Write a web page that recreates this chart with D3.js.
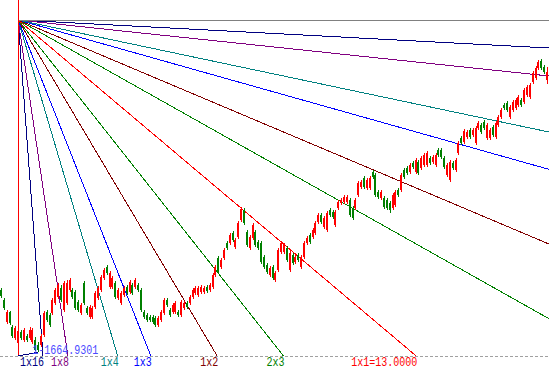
<!DOCTYPE html>
<html>
<head>
<meta charset="utf-8">
<script src="https://cdn.jsdelivr.net/npm/d3@7"></script>
<style>
  html, body { margin: 0; padding: 0; background: #fff; }
  svg { display: block; }
  .label { font-family: "Liberation Mono", "DejaVu Sans Mono", monospace; font-size: 12px; }
</style>
</head>
<body>
<div id="chart"></div>
<script>
// Daily bars: [open, high, low, close].
const bars = [
  [2051,2063,2001,2014],[1989,2001,1927,1939],[1853,1927,1840,1915],[1915,1921,1834,1846],
  [1822,1834,1753,1766],[1753,1828,1741,1815],[1722,1809,1710,1797],[1791,1803,1741,1753],
  [1741,1815,1729,1803],[1766,1778,1729,1741],[1753,1822,1741,1803],[1729,1815,1716,1803],
  [1741,1760,1673,1679],[1710,1729,1664.93,1679],[1710,1778,1698,1766],[1772,1921,1760,1908],
  [1915,1927,1853,1865],[1896,1908,1822,1834],[1908,2001,1896,1989],[1970,2063,1958,2051],
  [2008,2095,1995,2082],[2063,2082,1977,1989],[1927,2107,1915,2095],[1970,2113,1958,2095],
  [2051,2125,2039,2113],[2051,2063,1995,2008],[2039,2051,1927,1939],[1977,1989,1915,1927],
  [1908,1970,1896,1958],[2095,2107,1958,1970],[1939,1952,1896,1908],[1884,1958,1871,1946],
  [1884,1952,1871,1939],[1946,2045,1933,2032],[2001,2076,1989,2063],[2051,2144,2039,2132],
  [2125,2187,2113,2175],[2194,2206,2144,2156],[2070,2169,2057,2156],[2070,2138,2057,2125],
  [2095,2107,1995,2008],[2001,2063,1989,2051],[1970,2045,1958,2032],[2020,2076,2008,2063],
  [2070,2082,2020,2032],[2039,2113,2026,2101],[2082,2095,2020,2032],[2070,2125,2057,2113],
  [2082,2095,2039,2051],[2051,2063,1915,1927],[1915,1927,1871,1884],[1896,1908,1853,1865],
  [1884,1896,1853,1865],[1884,1896,1840,1853],[1877,1890,1822,1834],[1834,1890,1822,1877],
  [1865,1927,1853,1915],[1908,2001,1896,1989],[1989,2001,1946,1958],[1927,1939,1884,1896],
  [1915,1970,1902,1958],[1915,1983,1902,1970],[1915,1927,1884,1896],[1896,1989,1884,1977],
  [1939,1983,1927,1970],[1970,1983,1933,1946],[1970,2020,1958,2008],[2008,2063,1995,2051],
  [2032,2076,2020,2063],[2020,2076,2008,2063],[2039,2082,2026,2070],[2039,2076,2026,2063],
  [2070,2082,2032,2045],[2051,2095,2039,2082],[2070,2156,2057,2144],[2144,2206,2132,2194],
  [2249,2262,2150,2163],[2194,2249,2181,2237],[2249,2311,2237,2299],[2342,2355,2299,2311],
  [2342,2404,2330,2392],[2404,2417,2349,2361],[2318,2373,2305,2361],[2380,2479,2367,2466],
  [2485,2566,2473,2553],[2547,2559,2454,2466],[2411,2423,2318,2330],[2311,2392,2299,2380],
  [2373,2466,2361,2454],[2411,2423,2318,2330],[2349,2361,2299,2311],[2342,2355,2212,2225],
  [2256,2268,2181,2194],[2206,2218,2150,2163],[2144,2200,2132,2187],[2194,2206,2113,2125],
  [2113,2169,2101,2156],[2175,2311,2163,2299],[2287,2355,2274,2342],[2287,2342,2274,2330],
  [2311,2324,2225,2237],[2175,2293,2163,2280],[2268,2280,2206,2218],[2225,2268,2212,2256],
  [2268,2280,2225,2237],[2194,2268,2181,2256],[2256,2355,2243,2342],[2342,2386,2330,2373],
  [2392,2404,2336,2349],[2380,2435,2367,2423],[2404,2479,2392,2466],[2473,2528,2460,2516],
  [2516,2528,2460,2473],[2442,2510,2429,2497],[2423,2541,2411,2528],[2547,2559,2504,2516],
  [2534,2547,2491,2504],[2454,2547,2442,2534],[2559,2609,2547,2597],[2590,2621,2578,2609],
  [2597,2640,2584,2628],[2597,2640,2584,2628],[2609,2621,2504,2516],[2559,2572,2485,2497],
  [2559,2621,2547,2609],[2640,2727,2628,2714],[2689,2733,2677,2721],[2745,2758,2677,2689],
  [2683,2745,2671,2733],[2683,2758,2671,2745],[2783,2795,2740,2752],[2764,2776,2628,2640],
  [2659,2671,2615,2628],[2621,2671,2609,2659],[2621,2634,2553,2566],[2609,2621,2547,2559],
  [2590,2603,2528,2547],[2559,2652,2547,2640],[2578,2671,2566,2659],[2671,2683,2628,2640],
  [2671,2776,2659,2764],[2795,2807,2740,2752],[2807,2820,2764,2776],[2783,2839,2770,2826],
  [2839,2851,2801,2814],[2783,2869,2770,2857],[2845,2857,2764,2776],[2807,2882,2795,2869],
  [2826,2900,2814,2888],[2826,2913,2814,2900],[2869,2882,2826,2839],[2845,2888,2832,2876],
  [2826,2900,2814,2888],[2919,2931,2876,2888],[2919,2931,2863,2876],[2869,2882,2801,2814],
  [2764,2839,2752,2826],[2733,2857,2721,2845],[2839,2851,2795,2807],[2795,2869,2783,2857],
  [2900,2975,2888,2962],[2993,3006,2950,2962],[2969,3049,2956,3037],[3000,3043,2987,3031],
  [3043,3055,2987,3000],[3012,3055,3000,3043],[2962,3068,2950,3055],[3055,3099,3043,3086],
  [3074,3086,3018,3031],[3093,3105,3043,3055],[2993,3086,2981,3074],[2993,3055,2981,3043],
  [3062,3074,3000,3012],[3000,3099,2987,3086],[3074,3136,3062,3124],[3124,3179,3111,3167],
  [3198,3210,3167,3179],[3210,3223,3155,3167],[3124,3198,3111,3185],[3167,3229,3155,3217],
  [3179,3241,3167,3229],[3198,3260,3185,3248],[3229,3241,3185,3198],[3217,3303,3204,3291],
  [3260,3322,3248,3310],[3248,3334,3235,3322],[3341,3409,3328,3396],[3365,3440,3353,3427],
  [3427,3477,3415,3465],[3471,3483,3415,3427],[3434,3446,3390,3403],[3353,3434,3328,3403]
]

// Gann fan: anchor bar/price and price step per bar of the 1x1 line.
const fanOrigin = { bar: 6, price: 3725 }
const fanStep = 14.96
const fanNames = ['1x16', '1x8', '1x4', '1x3', '1x2', '2x3', '1x1', '3x2', '2x1', '3x1', '4x1', '8x1', '16x1']
const fanRatios = [16, 8, 4, 3, 2, 1.5, 1, 2 / 3, 1 / 2, 1 / 3, 1 / 4, 1 / 8, 1 / 16]
const unitValue = 13.0
const lowValue = 1664.9301
const priceRange = [1641.8, 3725]

const fanColor = {
  16: '#000080', 8: '#800080', 4: '#008080', 3: '#0000ff', 2: '#800000', 1.5: '#008000', 1: '#ff0000'
}
const colorOf = r => fanColor[r >= 1 ? r : Math.round(1 / r * 100) / 100] ?? fanColor[r >= 1 ? r : 1 / r]
const upColor = '#ff0000'
const downColor = '#008000'

const width = 549
const height = 371

const svg = d3.select('#chart')
  .append('svg')
  .attr('width', width)
  .attr('height', height)

/**
 * Scales.
 */
const x = d3.scaleLinear()
  .domain([0, bars.length - 1])
  .range([1, 547])
const y = d3.scaleLinear()
  .domain(priceRange)
  .range([356, 20])

const floorY = y(priceRange[0])

svg.append('defs')
  .append('clipPath')
  .attr('id', 'plot')
  .append('rect')
  .attr('x', 0)
  .attr('y', 0)
  .attr('width', width)
  .attr('height', floorY + 0.5)

/**
 * Dashed base line.
 */
svg.append('line')
  .attr('x1', 0)
  .attr('x2', width)
  .attr('y1', Math.round(floorY) + 0.5)
  .attr('y2', Math.round(floorY) + 0.5)
  .attr('stroke', '#a0a0a0')
  .attr('stroke-dasharray', '3,2')

/**
 * Fan lines.
 */
const fan = svg.append('g')
  .attr('clip-path', 'url(#plot)')
  .attr('shape-rendering', 'crispEdges')
const x0 = x(fanOrigin.bar)
const y0 = y(fanOrigin.price)
const lastBar = x.invert(width)

const fanLines = fanRatios.map((r, i) => {
  const toFloor = (fanOrigin.price - priceRange[0]) / (fanStep * r)
  const endBar = Math.min(fanOrigin.bar + toFloor, lastBar)
  const endPrice = fanOrigin.price - fanStep * r * (endBar - fanOrigin.bar)
  return { name: fanNames[i], ratio: r, endBar, endPrice, hitsFloor: fanOrigin.bar + toFloor <= lastBar }
})

fan.selectAll('line.fan')
  .data(fanLines)
  .enter()
  .append('line')
  .attr('class', 'fan')
  .attr('x1', x0)
  .attr('y1', y0)
  .attr('x2', d => x(d.endBar))
  .attr('y2', d => y(d.endPrice))
  .attr('stroke', d => colorOf(d.ratio))
  .attr('stroke-width', 1)

// horizontal and vertical rays
fan.append('line')
  .attr('x1', x0).attr('x2', width)
  .attr('y1', Math.round(y0) + 0.5).attr('y2', Math.round(y0) + 0.5)
  .attr('stroke', '#808080')
fan.append('line')
  .attr('x1', Math.floor(x0) + 0.5).attr('x2', Math.floor(x0) + 0.5)
  .attr('y1', 0).attr('y2', floorY)
  .attr('stroke', '#ff0000')

// line from the fan foot to the lowest low
const lowIdx = d3.minIndex(bars, d => d[2])
fan.append('line')
  .attr('x1', x0).attr('y1', floorY)
  .attr('x2', x(lowIdx)).attr('y2', y(bars[lowIdx][2]))
  .attr('stroke', '#000080')

/**
 * Candles.
 */
const candles = svg.append('g')
  .attr('shape-rendering', 'crispEdges')
  .selectAll('g.candle')
  .data(bars)
  .enter()
  .append('g')
  .attr('class', 'candle')
  .attr('fill', d => d[3] >= d[0] ? upColor : downColor)

candles.append('rect')
  .attr('x', (d, i) => Math.round(x(i)))
  .attr('width', 1)
  .attr('y', d => Math.round(y(d[1])))
  .attr('height', d => Math.max(1, Math.round(y(d[2])) - Math.round(y(d[1]))))

candles.append('rect')
  .attr('x', (d, i) => Math.round(x(i)) - 1)
  .attr('width', 2)
  .attr('y', d => Math.round(y(Math.max(d[0], d[3]))))
  .attr('height', d => Math.max(1, Math.round(y(Math.min(d[0], d[3]))) - Math.round(y(Math.max(d[0], d[3])))))

/**
 * Labels.
 */
const labelText = d => d.ratio === 1 ? `${d.name}=${unitValue.toFixed(4)}` : d.name
svg.selectAll('text.fan-label')
  .data(fanLines.filter(d => d.hitsFloor))
  .enter()
  .append('text')
  .attr('class', 'label fan-label')
  .attr('x', d => x(d.endBar) + 1)
  .attr('y', 366)
  .attr('text-anchor', 'end')
  .attr('fill', d => colorOf(d.ratio))
  .attr('textLength', d => labelText(d).length * 6)
  .attr('lengthAdjust', 'spacingAndGlyphs')
  .text(labelText)

const lowText = `1-${lowValue.toFixed(4)}`
svg.append('text')
  .attr('class', 'label')
  .attr('x', x(lowIdx) - 6)
  .attr('y', 354)
  .attr('fill', '#4a4aff')
  .attr('textLength', lowText.length * 6)
  .attr('lengthAdjust', 'spacingAndGlyphs')
  .text(lowText)
</script>
</body>
</html>
